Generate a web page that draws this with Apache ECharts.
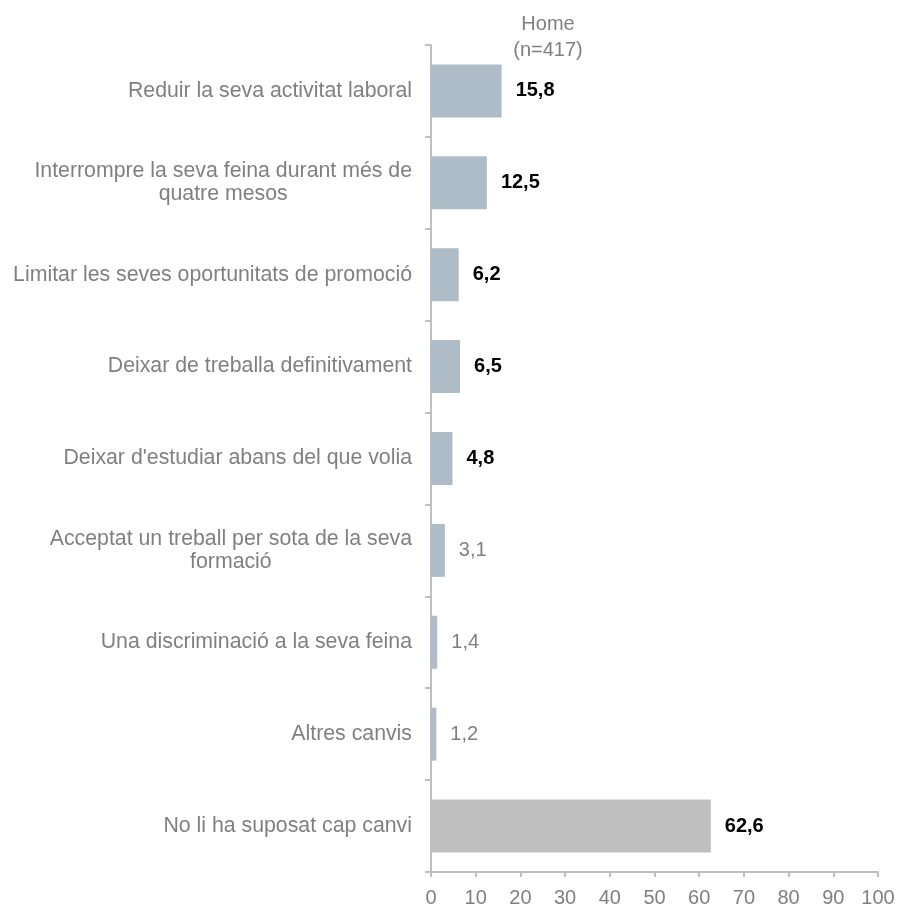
<!DOCTYPE html>
<html>
<head>
<meta charset="utf-8">
<script src="https://cdn.jsdelivr.net/npm/echarts@6/dist/echarts.min.js"></script>
<style>
html,body{margin:0;padding:0;background:#fff;}
#chart{width:899px;height:908px;}
</style>
</head>
<body>
<div id="chart"></div>
<script>
var categories = [
    'Reduir la seva activitat laboral',
    'Interrompre la seva feina durant més de\nquatre mesos',
    'Limitar les seves oportunitats de promoció',
    'Deixar de treballa definitivament',
    "Deixar d'estudiar abans del que volia",
    'Acceptat un treball per sota de la seva\nformació',
    'Una discriminació a la seva feina',
    'Altres canvis',
    'No li ha suposat cap canvi'
];
var values = [15.8, 12.5, 6.2, 6.5, 4.8, 3.1, 1.4, 1.2, 62.6];
// which value labels are drawn bold black
var boldLabel = [true, true, true, true, true, false, false, false, true];
var xTicks = [0, 10, 20, 30, 40, 50, 60, 70, 80, 90, 100];

var myChart = echarts.init(document.getElementById('chart'));

var barData = values.map(function (v, i) {
    return {
        value: v,
        itemStyle: { color: i === values.length - 1 ? '#bfbfbf' : '#adbcc6' },
        label: boldLabel[i]
            ? { color: '#000', fontWeight: 'bold' }
            : { color: '#808080', fontWeight: 'normal' }
    };
});

var option = {
    animation: false,
    title: {
        text: 'Home\n(n=417)',
        left: 543,
        top: 6,
        textAlign: 'center',
        textStyle: {
            color: '#808080',
            fontSize: 20,
            fontWeight: 'normal',
            fontFamily: 'Liberation Sans',
            lineHeight: 26
        }
    },
    grid: {
        top: 45,
        left: 431,
        right: 21,
        bottom: 36
    },
    xAxis: {
        type: 'value',
        min: 0,
        max: 100,
        interval: 10,
        splitLine: { show: false },
        axisLine: { show: true, lineStyle: { color: '#bfbfbf', width: 2 } },
        axisTick: { show: true, length: 5, lineStyle: { color: '#bfbfbf', width: 2 } },
        axisLabel: {
            color: '#808080',
            fontSize: 20,
            fontFamily: 'Liberation Sans',
            margin: 16,
            formatter: function (v) { return xTicks.indexOf(v) >= 0 ? String(v) : ''; }
        }
    },
    yAxis: {
        type: 'category',
        inverse: true,
        data: categories,
        axisLine: { show: true, lineStyle: { color: '#bfbfbf', width: 2 } },
        axisTick: { show: true, length: 6, lineStyle: { color: '#bfbfbf', width: 2 } },
        axisLabel: {
            margin: 19,
            color: '#808080',
            fontSize: 21.3,
            fontFamily: 'Liberation Sans',
            lineHeight: 23,
            formatter: function (v) {
                return v.split('\n').map(function (s) { return '{c|' + s + '}'; }).join('\n');
            },
            rich: {
                c: {
                    align: 'center',
                    color: '#808080',
                    fontSize: 21.3,
                    fontFamily: 'Liberation Sans',
                    lineHeight: 23
                }
            }
        }
    },
    series: [{
        type: 'bar',
        data: barData,
        barWidth: 53,
        label: {
            show: true,
            position: 'right',
            distance: 14,
            fontSize: 20,
            fontFamily: 'Liberation Sans',
            formatter: function (p) { return String(p.value).replace('.', ','); }
        }
    }]
};

myChart.setOption(option);
</script>
</body>
</html>
